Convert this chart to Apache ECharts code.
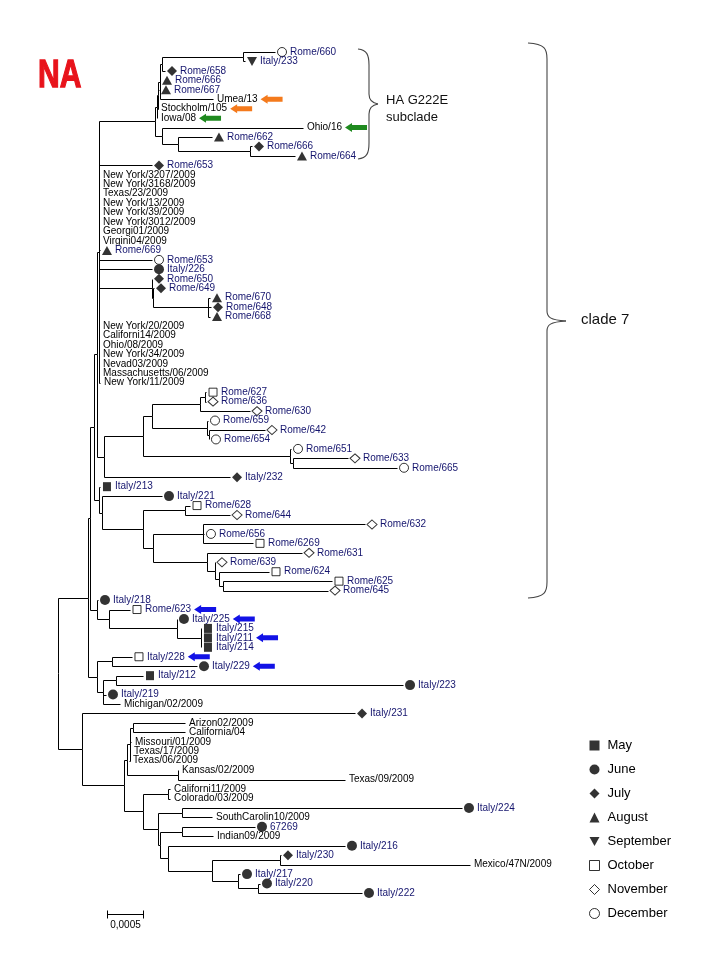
<!DOCTYPE html>
<html><head><meta charset="utf-8">
<script src="https://cdn.jsdelivr.net/npm/echarts@6/dist/echarts.min.js"></script>
<style>html,body{margin:0;padding:0;background:#fff}#c{width:720px;height:960px}</style>
</head><body><div id="c"></div>
<script>
// ---- DATA ----
const months = ['May','June','July','August','September','October','November','December'];
// internal nodes: [id, parent, depth from origin in 1e-4 substitutions/site]
const internalNodes = [
 ['root',null,2.45],
 ['A','root',6.54],['U','A',6.81],['W','U',7.36],['BBx','W',7.77],['BB','BBx',8.04],
 ['S','BB',15.67],['Sa','S',15.94],['Sb','Sa',16.08],['S1','Sb',16.35],['S1b','S1',16.62],['P','S1b',27.66],
 ['S2','S',16.62],['S3','S2',18.80],['S4','S3',28.61],
 ['Q','BB',15.26],['Q2','Q',15.40],['Q3','Q2',22.89],
 ['N2','W',8.04],['N1','BBx',8.72],['G','N1',14.03],['G1','G',15.26],['G1a','G1',21.80],['G1a1','G1a',22.48],
 ['G1b','G1',22.75],['G1b1','G1b',23.02],['G2','G',34.06],['G2a','G2',34.47],
 ['L','N2',8.45],['H','L',14.03],['Ha','H',19.75],['Hb','H',15.40],['Hb1','Hb',22.21],['Hb2','Hb',22.75],
 ['Hb3','Hb2',23.84],['Hb4','Hb3',24.39],['Hb5','Hb4',24.93],
 ['N218','U',7.77],['N623','N218',9.40],['N225','N623',18.66],['N215','N225',21.93],
 ['N228','A',7.77],['N228b','N228',9.81],['N219','N228',8.58],['N212','N219',10.35],
 ['B','root',5.72],['C','B',11.44],['D','C',11.85],['D2','D',12.26],['AC','D2',12.67],['K','D',18.80],
 ['E','C',14.03],['CC','E',17.44],['F','E',16.08],['F1','F',19.35],['F2','F',16.35],['F3','F2',19.35],
 ['F4','F2',17.44],['F5','F4',23.43],['F6','F5',32.70],['F7','F5',26.98],['F8','F7',29.70]
];
// leaves in display order: [label, parent, tip depth, month index (-1 none), arrow colour]
const leaves = [
 ['Rome/660','P',32.02,7,''],['Italy/233','P',27.93,4,''],['Rome/658','S1b',17.03,2,''],
 ['Rome/666','S1',16.35,3,''],['Rome/667','S1',16.21,3,''],['Umea/13','S1',23.57,-1,'orange'],
 ['Stockholm/105','Sb',15.94,-1,'orange'],['Iowa/08','Sa',15.94,-1,'green'],['Ohio/16','S2',35.83,-1,'green'],
 ['Rome/662','S3',23.43,3,''],['Rome/666','S4',28.88,2,''],['Rome/664','S4',34.74,3,''],
 ['Rome/653','BB',15.26,2,''],
 ['New York/3207/2009','BB',8.04,-1,''],['New York/3168/2009','BB',8.04,-1,''],['Texas/23/2009','BB',8.04,-1,''],
 ['New York/13/2009','BB',8.04,-1,''],['New York/39/2009','BB',8.04,-1,''],['New York/3012/2009','BB',8.04,-1,''],
 ['Georgi01/2009','BB',8.04,-1,''],['Virgini04/2009','BB',8.04,-1,''],
 ['Rome/669','BB',8.17,3,''],['Rome/653','BB',15.26,7,''],['Italy/226','BB',15.26,1,''],
 ['Rome/650','Q',15.26,2,''],['Rome/649','Q2',15.53,2,''],['Rome/670','Q3',23.16,3,''],
 ['Rome/648','Q3',23.30,2,''],['Rome/668','Q3',23.16,3,''],
 ['New York/20/2009','BB',8.04,-1,''],['Californi14/2009','BB',8.04,-1,''],['Ohio/08/2009','BB',8.04,-1,''],
 ['New York/34/2009','BB',8.04,-1,''],['Nevad03/2009','BB',8.04,-1,''],['Massachusetts/06/2009','BB',8.04,-1,''],
 ['New York/11/2009','BB',8.17,-1,''],
 ['Rome/627','G1a1',22.62,5,''],['Rome/636','G1a1',22.62,6,''],['Rome/630','G1a',28.61,6,''],
 ['Rome/659','G1b',22.89,7,''],['Rome/642','G1b1',30.65,6,''],['Rome/654','G1b1',23.02,7,''],
 ['Rome/651','G2',34.20,7,''],['Rome/633','G2a',41.96,6,''],['Rome/665','G2a',48.64,7,''],
 ['Italy/232','N1',25.89,2,''],['Italy/213','N2',8.17,0,''],['Italy/221','L',16.62,1,''],
 ['Rome/628','Ha',20.44,5,''],['Rome/644','Ha',25.89,6,''],['Rome/632','Hb1',44.28,6,''],
 ['Rome/656','Hb1',22.34,7,''],['Rome/6269','Hb1',29.02,5,''],['Rome/631','Hb2',35.70,6,''],
 ['Rome/639','Hb3',23.84,6,''],['Rome/624','Hb4',31.20,5,''],['Rome/625','Hb5',39.78,5,''],
 ['Rome/645','Hb5',39.24,6,''],
 ['Italy/218','N218',7.90,1,''],['Rome/623','N623',12.26,5,'blue'],['Italy/225','N225',18.66,1,'blue'],
 ['Italy/215','N215',21.93,0,''],['Italy/211','N215',21.93,0,'blue'],['Italy/214','N215',21.93,0,''],
 ['Italy/228','N228b',12.53,5,'blue'],['Italy/229','N228b',21.39,1,'blue'],
 ['Italy/212','N212',14.03,0,''],['Italy/223','N212',49.46,1,''],['Italy/219','N219',8.99,1,''],
 ['Michigan/02/2009','N219',10.90,-1,''],
 ['Italy/231','B',42.92,2,''],['Arizon02/2009','AC',19.75,-1,''],['California/04','AC',19.75,-1,''],
 ['Missouri/01/2009','D2',12.40,-1,''],['Texas/17/2009','D2',12.26,-1,''],['Texas/06/2009','D2',12.13,-1,''],
 ['Kansas/02/2009','K',18.80,-1,''],['Texas/09/2009','K',41.55,-1,''],
 ['Californi11/2009','CC',17.71,-1,''],['Colorado/03/2009','CC',17.71,-1,''],
 ['Italy/224','F1',57.49,1,''],['SouthCarolin10/2009','F1',23.43,-1,''],
 ['67269','F3',29.29,1,''],['Indian09/2009','F3',23.57,-1,''],
 ['Italy/216','F4',41.55,1,''],['Italy/230','F6',32.83,2,''],['Mexico/47N/2009','F6',58.58,-1,''],
 ['Italy/217','F7',27.25,1,''],['Italy/220','F8',29.97,1,''],['Italy/222','F8',43.87,1,'']
];
const scaleBar = {start: 9.09, length: 5, label: '0,0005'}; // 5 x 1e-4 = 0.0005

// ---- BUILD TREE ----
const byId = {};
internalNodes.forEach(n => byId[n[0]] = {parent:n[1], depth:n[2], children:[]});
leaves.forEach((l,i) => { byId['leaf'+i] = {parent:l[1], depth:l[2], y:i, children:[]}; });
Object.values(byId).forEach(o => { if (o.parent) byId[o.parent].children.push(o); });
function yOf(o){ if (o.y !== undefined) return o.y; const ys = o.children.map(yOf); o.y = (Math.min(...ys)+Math.max(...ys))/2; return o.y; }
yOf(byId.root);
const edges = [];
Object.values(byId).forEach(o => { if (o.parent) { const p = byId[o.parent]; edges.push([p.depth, p.y, o.depth, o.y]); } });

const FONT = '"Liberation Sans", Arial, sans-serif';
const navy = '#15156e';
const arrowCol = {orange:'#f47a1c', green:'#1f8a1f', blue:'#1212e6'};
const cv = document.createElement('canvas').getContext('2d');
cv.font = '10px ' + FONT;

const symbols = ['rect','circle','diamond','triangle','path://M0,0 L10,0 L5,9 Z','rect','diamond','circle'];
const filled = [true,true,true,true,true,false,false,false];
const sizes = [[8,9],10,10,[10,9],[10,9],[8,8],[10,9],9];

const monthSeries = months.map((m,k) => ({
  type:'scatter', name:m, symbol:symbols[k], symbolSize:sizes[k], symbolOffset:[7,0],
  itemStyle: filled[k] ? {color:'#000'} : {color:'#fff', borderColor:'#000', borderWidth:1},
  data: leaves.map((l,i)=>l[3]===k?[l[2], i]:null).filter(d=>d), z:5, silent:true
}));

function brace(xTop, xV, xTip, yTop, yMid, yBot){
  const st = {stroke:'#444', lineWidth:1.1, fill:null};
  return [
    {type:'bezierCurve', shape:{x1:xTop,y1:yTop,cpx1:xV-2,cpy1:yTop+1,cpx2:xV,cpy2:yTop+6,x2:xV,y2:yTop+16}, style:st},
    {type:'line', shape:{x1:xV,y1:yTop+16,x2:xV,y2:yMid-10}, style:st},
    {type:'bezierCurve', shape:{x1:xV,y1:yMid-10,cpx1:xV,cpy1:yMid-4,cpx2:xV+3,cpy2:yMid-1,x2:xTip,y2:yMid}, style:st},
    {type:'bezierCurve', shape:{x1:xTip,y1:yMid,cpx1:xV+3,cpy1:yMid+1,cpx2:xV,cpy2:yMid+4,x2:xV,y2:yMid+10}, style:st},
    {type:'line', shape:{x1:xV,y1:yMid+10,x2:xV,y2:yBot-16}, style:st},
    {type:'bezierCurve', shape:{x1:xV,y1:yBot-16,cpx1:xV,cpy1:yBot-6,cpx2:xV-2,cpy2:yBot-1,x2:xTop,y2:yBot}, style:st}
  ];
}

const chart = echarts.init(document.getElementById('c'));
chart.setOption({
  animation:false,
  grid:{left:40, right:0, top:52, bottom:67},
  xAxis:{type:'value', min:0, max:680/7.34, show:false},
  yAxis:{type:'value', min:0, max:leaves.length-1, inverse:true, show:false},
  legend:{
    orient:'vertical', left:589, top:739, itemWidth:10, itemHeight:10, itemGap:11, padding:0,
    itemStyle:{borderWidth:1},
    textStyle:{fontSize:13, color:'#000', fontFamily:FONT, padding:[0,0,0,3]}, data:months
  },
  series:[
    {type:'custom', name:'branches', clip:false, silent:true, z:2, data:edges,
     renderItem(params, api){
       const p = api.coord([api.value(0), api.value(1)]);
       const c = api.coord([api.value(2), api.value(3)]);
       const r = v => Math.round(v)+0.5;
       return {type:'polyline', shape:{points:[[r(p[0]),r(p[1])],[r(p[0]),r(c[1])],[r(c[0]),r(c[1])]]},
               style:{stroke:'#000', lineWidth:1, fill:null}};
     }},
    {type:'custom', name:'labels', clip:false, silent:true, z:6,
     data: leaves.map((l,i)=>[l[2], i]),
     renderItem(params, api){
       const l = leaves[params.dataIndex];
       const pt = api.coord([api.value(0), api.value(1)]);
       const x = pt[0] + (l[3] >= 0 ? 15 : 4);
       const isRef = !/^(Rome|Italy|67269)/.test(l[0]);
       const children = [{type:'text', style:{x:x, y:pt[1], text:l[0], fill: isRef ? '#000' : navy,
           font:'10px '+FONT, textAlign:'left', textVerticalAlign:'middle', verticalAlign:'middle'}}];
       if (l[4]) {
         const w = cv.measureText(l[0]).width;
         const ax = x + w + 3, y = pt[1];
         children.push({type:'polygon', shape:{points:[[ax,y],[ax+7,y-4.5],[ax+7,y-2.5],[ax+22,y-2.5],[ax+22,y+2.5],[ax+7,y+2.5],[ax+7,y+4.5]]},
           style:{fill:arrowCol[l[4]]}});
       }
       return {type:'group', children};
     }},
    {type:'custom', name:'scalebar', clip:false, silent:true, data:[[scaleBar.start, scaleBar.start+scaleBar.length]],
     renderItem(params, api){
       const a = Math.round(api.coord([api.value(0), 0])[0])+0.5, b = Math.round(api.coord([api.value(1), 0])[0])+0.5;
       const y = 914.5;
       return {type:'group', children:[
         {type:'polyline', shape:{points:[[a,y-4],[a,y+4]]}, style:{stroke:'#000', lineWidth:1, fill:null}},
         {type:'polyline', shape:{points:[[b,y-4],[b,y+4]]}, style:{stroke:'#000', lineWidth:1, fill:null}},
         {type:'polyline', shape:{points:[[a,y],[b,y]]}, style:{stroke:'#000', lineWidth:1, fill:null}},
         {type:'text', style:{x:(a+b)/2, y:925, text:scaleBar.label, font:'10px '+FONT, fill:'#000', textAlign:'center', textVerticalAlign:'middle', verticalAlign:'middle'}}
       ]};
     }},
    ...monthSeries
  ],
  graphic:[
    {type:'text', x:38, y:76, scaleY:1.3, style:{text:'NA', fontSize:30, fontWeight:'bold', fontFamily:'Liberation Sans', fill:'#e8131b',
      stroke:'#e8131b', lineWidth:1, textVerticalAlign:'middle', verticalAlign:'middle'}},
    ...brace(358, 369, 378, 49, 104, 159),
    {type:'text', x:386, y:100, style:{text:'HA G222E', font:'13px '+FONT, fill:'#111', textVerticalAlign:'middle', verticalAlign:'middle'}},
    {type:'text', x:386, y:117, style:{text:'subclade', font:'13px '+FONT, fill:'#111', textVerticalAlign:'middle', verticalAlign:'middle'}},
    ...brace(528, 547, 566, 43, 321, 598),
    {type:'text', x:581, y:320, style:{text:'clade 7', font:'15px '+FONT, fill:'#111', textVerticalAlign:'middle', verticalAlign:'middle'}}
  ]
});
</script></body></html>
